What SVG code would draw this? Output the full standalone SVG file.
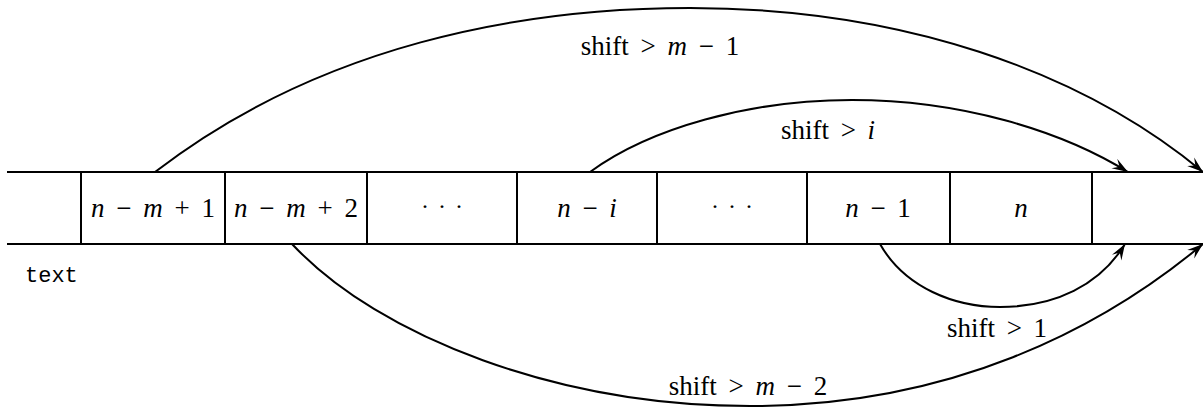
<svg xmlns="http://www.w3.org/2000/svg" width="1203" height="413" viewBox="0 0 1203 413">
<defs>
<style>
.ln{stroke:#000;stroke-width:2;fill:none}
.t{font-family:"Liberation Serif",serif;font-size:27px;fill:#000;word-spacing:5px}
.i{font-style:italic}
.c{text-anchor:middle}
.d{font-family:"Liberation Serif",serif;font-size:24px;fill:#000;word-spacing:3px}
.mono{font-family:"Liberation Mono",monospace;font-size:22px;fill:#000}
</style>
<marker id="ah" markerWidth="18" markerHeight="12" refX="16" refY="6" orient="auto" markerUnits="userSpaceOnUse">
<path d="M16,6 L0,0.5 L6,6 L0,11.5 Z" fill="#000"/>
</marker>
</defs>
<rect width="1203" height="413" fill="#fff"/>
<g id="strip">
<line class="ln" x1="7" y1="172" x2="1203" y2="172"/>
<line class="ln" x1="7" y1="244" x2="1203" y2="244"/>
</g>
<g id="cell1"><line class="ln" x1="81" y1="172" x2="81" y2="244"/><text class="t c" x="153" y="217"><tspan class="i">n</tspan> − <tspan class="i">m</tspan> + 1</text></g>
<g id="cell2"><line class="ln" x1="225" y1="172" x2="225" y2="244"/><text class="t c" x="296" y="217"><tspan class="i">n</tspan> − <tspan class="i">m</tspan> + 2</text></g>
<g id="cell3"><line class="ln" x1="367" y1="172" x2="367" y2="244"/><text class="d c" x="442" y="214">· · ·</text></g>
<g id="cell4"><line class="ln" x1="517" y1="172" x2="517" y2="244"/><text class="t c" x="587" y="217"><tspan class="i">n</tspan> − <tspan class="i">i</tspan></text></g>
<g id="cell5"><line class="ln" x1="657" y1="172" x2="657" y2="244"/><text class="d c" x="732" y="214">· · ·</text></g>
<g id="cell6"><line class="ln" x1="807" y1="172" x2="807" y2="244"/><text class="t c" x="878" y="217"><tspan class="i">n</tspan> − 1</text></g>
<g id="cell7"><line class="ln" x1="950" y1="172" x2="950" y2="244"/><text class="t c" x="1021" y="217"><tspan class="i">n</tspan></text></g>
<g id="cell8"><line class="ln" x1="1092" y1="172" x2="1092" y2="244"/></g>
<g id="label-text"><text class="mono" x="25" y="282">text</text></g>
<g id="connectors">
<path class="ln" marker-end="url(#ah)" d="M155,172 C320,45 520,8 690,8 C900,8 1080,70 1203,172"/>
<path class="ln" marker-end="url(#ah)" d="M590,172 C650,128 750,100 852,100 C960,100 1060,130 1128,172"/>
<path class="ln" marker-end="url(#ah)" d="M880,244 C905,288 955,307 1000,307 C1055,307 1100,285 1125,244"/>
<path class="ln" marker-end="url(#ah)" d="M292,244 C380,338 560,406 750,406 C950,406 1100,330 1203,244"/>
</g>
<g id="edge-labels">
<text class="t c" x="660" y="55">shift &gt; <tspan class="i">m</tspan> − 1</text>
<text class="t c" x="828" y="139">shift &gt; <tspan class="i">i</tspan></text>
<text class="t c" x="997" y="337">shift &gt; 1</text>
<text class="t c" x="748" y="395">shift &gt; <tspan class="i">m</tspan> − 2</text>
</g>
</svg>
